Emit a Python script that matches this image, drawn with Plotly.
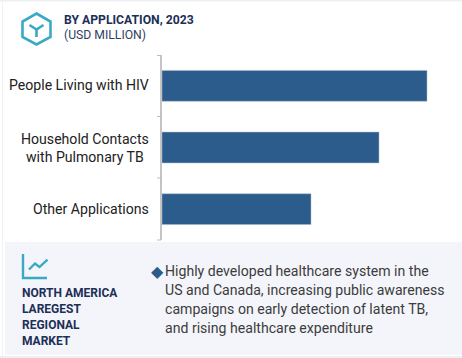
import plotly.graph_objects as go

categories = ["People Living with HIV", "Household Contacts<br>with Pulmonary TB", "Other Applications"]
values = [265, 217, 149]

W, H = 462, 358
L, R, T, B = 162, 461, 55, 240
NAVY = "#1c2f57"
TEAL = "#3aa9c4"
BLUE = "#2b5c8b"
GREY = "#3c3c3c"
FONT = "Roboto"

def X(x):
    return (x - L) / (R - L)

def Y(y):
    return (B - y) / (B - T)

def path(points, close=False):
    s = "M " + " L ".join(f"{X(a):.5f},{Y(b):.5f}" for a, b in points)
    return s + (" Z" if close else "")

def rect(x0, y0, x1, y1, fill, layer="below"):
    return dict(type="rect", xref="paper", yref="paper", x0=X(x0), x1=X(x1), y0=Y(y0), y1=Y(y1),
                fillcolor=fill, line_width=0, layer=layer)

def line(points, color, width, close=False, layer="above"):
    return dict(type="path", xref="paper", yref="paper", path=path(points, close),
                line=dict(color=color, width=width), layer=layer)

shapes = [
    rect(0, 0, 462, 1.5, "#eeeff2"),
    rect(2, 0, 3, 358, "#f0f1f3"),
    rect(0, 356, 462, 358, "#eeeff2"),
    rect(5, 242, 462, 355, "#f3f5fa"),
    # axis ticks
    rect(157, 116, 161, 117, "#bdbdbd", layer="above"),
    rect(157, 177.5, 161, 178.5, "#bdbdbd", layer="above"),
    rect(157, 55, 161, 56, "#bdbdbd", layer="above"),
    rect(157, 239.5, 161, 240.5, "#bdbdbd", layer="above"),
    # hexagon icon
    line([(36.5, 13.5), (50.5, 21.5), (50.5, 37), (36.5, 44.5), (22.5, 37), (22.5, 21.5)], TEAL, 2.6, close=True),
    line([(29.5, 25), (36.5, 29.5), (43.5, 25)], TEAL, 2.6),
    line([(36.5, 29.5), (36.5, 37)], TEAL, 2.6),
    # trend icon
    line([(23, 254), (23, 278), (47, 278)], TEAL, 2.4),
    line([(29, 269.5), (35, 263.5), (39.5, 267), (47.5, 259.5)], TEAL, 2.4),
]

def text(x, y, s, size, color, bold=False, anchor="left", align="left"):
    return dict(xref="paper", yref="paper", x=X(x), y=Y(y), text=f"<b>{s}</b>" if bold else s,
                showarrow=False, xanchor=anchor, yanchor="middle", align=align,
                font=dict(family=FONT, size=size, color=color))

annotations = [
    text(62, 20, "BY APPLICATION, 2023", 12.2, NAVY, True),
    text(62, 34.5, "(USD MILLION)", 12.2, "#2f3f5f"),
    text(20, 293, "NORTH AMERICA", 12, NAVY, True),
    text(20, 309, "LAREGEST", 12, NAVY, True),
    text(20, 325, "REGIONAL", 12, NAVY, True),
    text(20, 341, "MARKET", 12, NAVY, True),
    text(149, 271, "◆", 16, BLUE),
    text(163, 271, "Highly developed healthcare system in the", 14.1, GREY),
    text(163, 290, "US and Canada, increasing public awareness", 14.1, GREY),
    text(163, 309, "campaigns on early detection of latent TB,", 14.1, GREY),
    text(163, 328, "and rising healthcare expenditure", 14.1, GREY),
]
for c, yy in zip(categories, [85, 147.5, 209]):
    annotations.append(text(151, yy, c, 14.1, "#222222", anchor="right", align="center"))

fig = go.Figure(go.Bar(y=categories, x=values, orientation="h", width=0.5,
                       marker=dict(color=BLUE, line=dict(color="#a9bdd1", width=0.5))))
fig.update_layout(
    width=W, height=H, autosize=False,
    margin=dict(l=L, r=W - R, t=T, b=H - B, pad=0),
    paper_bgcolor="white", plot_bgcolor="white",
    showlegend=False, shapes=shapes, annotations=annotations,
    xaxis=dict(range=[0, R - L], visible=False),
    yaxis=dict(autorange="reversed", showticklabels=False, ticks="", showgrid=False,
               showline=True, linecolor="#c4c4c4", linewidth=1.5),
)
fig.write_html("out.html", config={"displayModeBar": False},
               post_script="document.body.style.margin='0';document.body.style.overflow='hidden';")
